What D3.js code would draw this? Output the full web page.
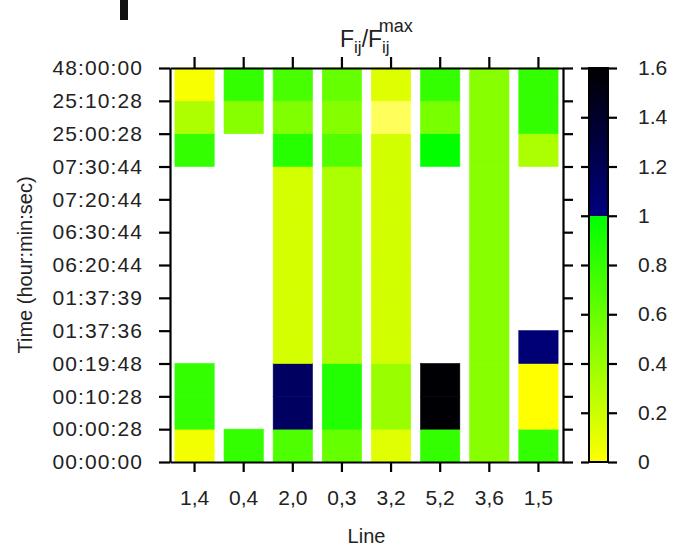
<!DOCTYPE html>
<html>
<head>
<meta charset="utf-8">
<script src="https://cdn.jsdelivr.net/npm/d3@7"></script>
<style>
body{margin:0;background:#fff;}
text{font-family:"Liberation Sans",Arial,sans-serif;fill:#222;}
</style>
</head>
<body>
<svg id="chart" width="673" height="548"></svg>
<script>
// line labels along the x axis
var lines = ["1,4","0,4","2,0","0,3","3,2","5,2","3,6","1,5"];
// time stamps at the row boundaries, bottom to top
var timeTicks = ["00:00:00","00:00:28","00:10:28","00:19:48","01:37:36","01:37:39",
	"06:20:44","06:30:44","07:20:44","07:30:44","25:00:28","25:10:28","48:00:00"];
// F_ij/F_ij^max per row (bottom to top), null = no data
var f_1_4 = [0.05,0.8,0.8,null,null,null,null,null,null,0.8,0.32,0.03];
var f_0_4 = [0.8,null,null,null,null,null,null,null,null,null,0.47,0.8];
var f_2_0 = [0.7,1.15,1.15,0.17,0.17,0.17,0.17,0.17,0.17,0.85,0.5,0.72];
var f_0_3 = [0.6,0.87,0.87,0.33,0.33,0.33,0.33,0.33,0.33,0.68,0.48,0.6];
var f_3_2 = [0.12,0.4,0.4,0.18,0.18,0.18,0.18,0.18,0.18,0.18,-0.2,0.13];
var f_5_2 = [0.8,1.58,1.58,null,null,null,null,null,null,0.995,0.53,0.8];
var f_3_6 = [0.47,0.47,0.47,0.47,0.47,0.47,0.47,0.47,0.47,0.47,0.47,0.47];
var f_1_5 = [0.8,0,0,1.05,null,null,null,null,null,0.33,0.8,0.8];
var series = [f_1_4,f_0_4,f_2_0,f_0_3,f_3_2,f_5_2,f_3_6,f_1_5];
var barTicks = [0,0.2,0.4,0.6,0.8,1,1.2,1.4,1.6];

var svg = d3.select("#chart");
var pLeft = 170, pRight = 563, pTop = 68, pBottom = 462;

var x = d3.scaleBand().domain(lines).range([pLeft,pRight]).paddingInner(0.2).paddingOuter(0.1);
var xAxisScale = d3.scaleBand().domain(lines).range([pLeft,pRight]);
var y = d3.scaleLinear().domain([0,timeTicks.length-1]).range([pBottom,pTop]);

// yellow -> green below 1, navy -> black above
var low = d3.scaleLinear().domain([-0.3,0,1]).range(["#ffff88","#ffff00","#00ff00"]).clamp(true);
var high = d3.scaleLinear().domain([1,1.6]).range(["#000080","#000000"]).clamp(true);
var color = function(v){ return v < 1 ? low(v) : high(v); };

var cells = [];
series.forEach(function(vals,i){
	vals.forEach(function(v,j){
		if(v !== null) cells.push({line:lines[i], row:j, v:v});
	});
});

svg.append("g").selectAll("rect").data(cells).enter().append("rect")
	.attr("x", function(d){ return x(d.line); })
	.attr("width", x.bandwidth())
	.attr("y", function(d){ return y(d.row+1); })
	.attr("height", function(d){ return y(d.row) - y(d.row+1); })
	.attr("fill", function(d){ return color(d.v); })
	.attr("stroke", function(d){ return color(d.v); })
	.attr("stroke-width", 0.6);

var styleAxis = function(g){
	g.select(".domain").attr("stroke","#000").attr("stroke-width",2.2);
	g.selectAll(".tick line").attr("stroke","#000").attr("stroke-width",2.2);
	g.selectAll(".tick text").style("font-size","21px").attr("fill","#222");
};

svg.append("g").attr("transform","translate("+pLeft+",0)")
	.call(d3.axisLeft(y).tickValues(d3.range(timeTicks.length))
		.tickFormat(function(i){ return timeTicks[i]; }).tickSize(11).tickSizeOuter(0).tickPadding(16))
	.call(styleAxis)
	.selectAll(".tick text").style("letter-spacing","1.1px");
svg.append("g").attr("transform","translate("+pRight+",0)")
	.call(d3.axisRight(y).tickValues(d3.range(timeTicks.length)).tickFormat("").tickSize(10).tickSizeOuter(0))
	.call(styleAxis);
svg.append("g").attr("transform","translate(0,"+pTop+")")
	.call(d3.axisTop(xAxisScale).tickFormat("").tickSize(11).tickSizeOuter(0))
	.call(styleAxis);
svg.append("g").attr("transform","translate(0,"+pBottom+")")
	.call(d3.axisBottom(xAxisScale).tickSize(10).tickSizeOuter(0).tickPadding(18))
	.call(styleAxis);

// colour bar
var cbL = 589, cbR = 608;
var cb = d3.scaleLinear().domain([0,1.6]).range([pBottom,pTop]);
var grad = svg.append("defs").append("linearGradient").attr("id","cbgrad")
	.attr("x1","0").attr("y1","1").attr("x2","0").attr("y2","0");
var stops = d3.range(0,1.0001,0.05).map(function(t){ return {o:t/1.6, c:low(t)}; })
	.concat(d3.range(1,1.6001,0.05).map(function(t){ return {o:t/1.6, c:high(t)}; }));
grad.selectAll("stop").data(stops).enter().append("stop")
	.attr("offset", function(d){ return d.o; })
	.attr("stop-color", function(d){ return d.c; });
svg.append("rect").attr("x",cbL).attr("y",pTop).attr("width",cbR-cbL).attr("height",pBottom-pTop)
	.attr("fill","url(#cbgrad)").attr("stroke","#000").attr("stroke-width",2);
svg.append("g").attr("transform","translate("+cbL+",0)")
	.call(d3.axisLeft(cb).tickValues(barTicks).tickFormat("").tickSize(8).tickSizeOuter(0))
	.call(styleAxis).select(".domain").remove();
svg.append("g").attr("transform","translate("+cbR+",0)")
	.call(d3.axisRight(cb).tickValues(barTicks).tickFormat(d3.format("~g")).tickSize(9).tickSizeOuter(0).tickPadding(21))
	.call(styleAxis).select(".domain").remove();

// titles
var title = svg.append("text").attr("x",340).attr("y",47).style("font-size","23px");
title.append("tspan").text("F");
title.append("tspan").attr("dy",6).style("font-size","17px").text("ij");
title.append("tspan").attr("dy",-6).text("/F");
title.append("tspan").attr("dy",6).style("font-size","17px").text("ij");
title.append("tspan").attr("dx",-11).attr("dy",-21).style("font-size","18px").text("max");

svg.append("text").attr("x",(pLeft+pRight)/2).attr("y",543).attr("text-anchor","middle")
	.style("font-size","20px").text("Line");
svg.append("text").attr("transform","translate(32,"+((pTop+pBottom)/2)+") rotate(-90)")
	.attr("text-anchor","middle").style("font-size","20px").text("Time (hour:min:sec)");

// stray mark in the top-left corner
svg.append("rect").attr("x",120).attr("y",0).attr("width",8).attr("height",20).attr("fill","#111");
</script>
</body>
</html>
